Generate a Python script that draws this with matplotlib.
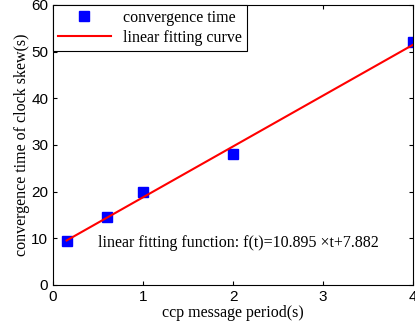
import numpy as np
import matplotlib
matplotlib.use("Agg")
from matplotlib import pyplot as plt

period = [0.15, 0.6, 1.0, 2.0, 4.0]
conv_time = [9.5, 14.5, 20.0, 28.0, 52.0]
slope = 10.895
intercept = 7.882

fig = plt.figure(figsize=(4.15, 3.32), dpi=100)
ax = fig.add_axes([0.128, 0.142, 0.867, 0.843])

fit_x = np.array([period[0], period[-1]])
ax.plot(period, conv_time, 's', color='#0000ff', markersize=7, label='convergence time')
ax.plot(fit_x, slope * fit_x + intercept, '-', color='#ff0000', lw=1.5, label='linear fitting curve')

ax.set_xlim(0, 4)
ax.set_ylim(0, 60)
ax.set_xticks([0, 1, 2, 3, 4])
ax.set_yticks([0, 10, 20, 30, 40, 50, 60])
ax.tick_params(direction='in', top=True, right=True, length=3, labelsize=11)
for lab in ax.get_xticklabels() + ax.get_yticklabels():
    lab.set_family('Liberation Sans')

serif = {'family': 'Liberation Serif', 'size': 11.5}
ax.set_xlabel('ccp message period(s)', fontdict=serif, labelpad=1)
ax.set_ylabel('convergence time of clock skew(s)', fontdict=serif, labelpad=1)
ax.text(0.5, 9, 'linear fitting function: f(t)=10.895 \u00d7t+7.882',
        fontdict=serif, va='center', ha='left')

leg = ax.legend(loc='upper left', prop=serif, fancybox=False, framealpha=1,
                edgecolor='black', borderaxespad=0, handlelength=3.3,
                borderpad=0.3, labelspacing=0.25)
leg.get_frame().set_linewidth(0.8)

fig.savefig('out.png', dpi=100)
